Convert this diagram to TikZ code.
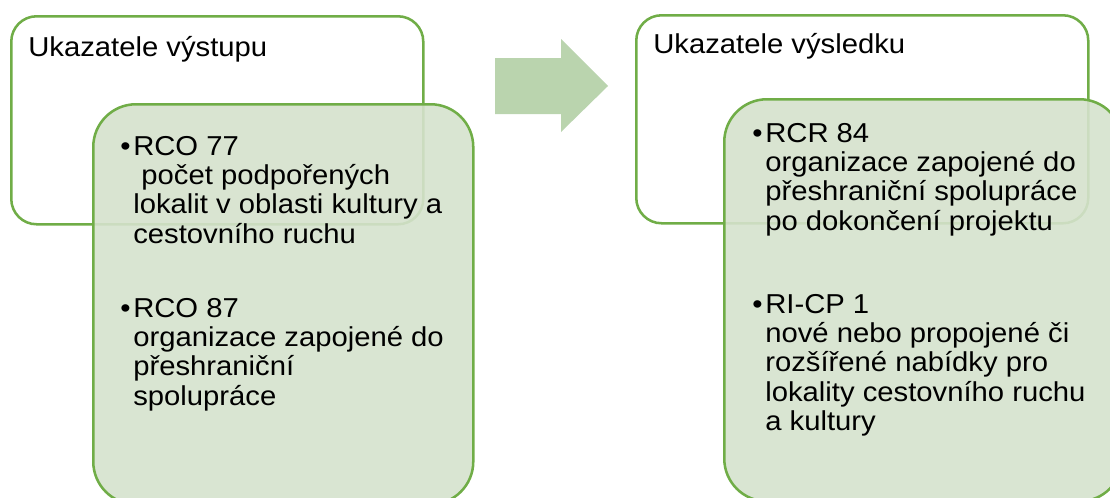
\documentclass[tikz,border=0pt]{standalone}
\usepackage{fontspec}
\setmainfont{Liberation Sans}[FakeStretch=1.07]
\definecolor{bordergreen}{HTML}{70AD47}
\definecolor{panelgreen}{HTML}{D5E2CD}
\definecolor{arrowgreen}{HTML}{BAD4AE}
\newcommand{\firstln}{\rule{0pt}{20pt}}
\newcommand{\bul}{\llap{\textbullet\hspace{2pt}}}
\begin{document}
\begin{tikzpicture}[x=0.75pt,y=-0.75pt,
 outerbox/.style={draw=bordergreen, line width=1.9pt, fill=white, rounded corners=19pt, anchor=north west, inner sep=0pt},
 innerbox/.style={draw=bordergreen, line width=1.9pt, fill=panelgreen, fill opacity=0.9, rounded corners=32pt, anchor=north west, inner sep=0pt},
 headtext/.style={anchor=base west, inner sep=0pt, font=\fontsize{20.5pt}{22pt}\selectfont},
 bodytext/.style={anchor=north west, inner sep=0pt, align=left, yshift=20pt, font=\fontsize{20.5pt}{22pt}\selectfont}]
\path[use as bounding box] (0,0) rectangle (1110,497);
\node[outerbox, minimum width=309pt, minimum height=156pt] (outL) at (10,15) {};
\node[innerbox, minimum width=285pt, minimum height=300pt] (inL) at (92,103) {};
\node[outerbox, minimum width=339pt, minimum height=156pt] (outR) at (635,14) {};
\node[innerbox, minimum width=298.5pt, minimum height=301.5pt] (inR) at (723,98) {};
\fill[arrowgreen] (495,58) -- (561,58) -- (561,39) -- (608,86) -- (561,132) -- (561,114) -- (495,114) -- cycle;
\node[headtext] (hL) at (28,56) {Ukazatele výstupu};
\node[headtext] (hR) at (653,53) {Ukazatele výsledku};
\node[bodytext] (tL1) at (133,155) {\firstln\bul RCO 77\\\ počet podpořených\\lokalit v oblasti kultury a\\cestovního ruchu};
\node[bodytext] (tL2) at (133,317) {\firstln\bul RCO 87\\organizace zapojené do\\přeshraniční\\spolupráce};
\node[bodytext] (tR1) at (765,142) {\firstln\bul RCR 84\\organizace zapojené do\\přeshraniční spolupráce\\po dokončení projektu};
\node[bodytext] (tR2) at (765,313) {\firstln\bul RI-CP 1\\nové nebo propojené či\\rozšířené nabídky pro\\lokality cestovního ruchu\\a kultury};
\end{tikzpicture}
\end{document}
